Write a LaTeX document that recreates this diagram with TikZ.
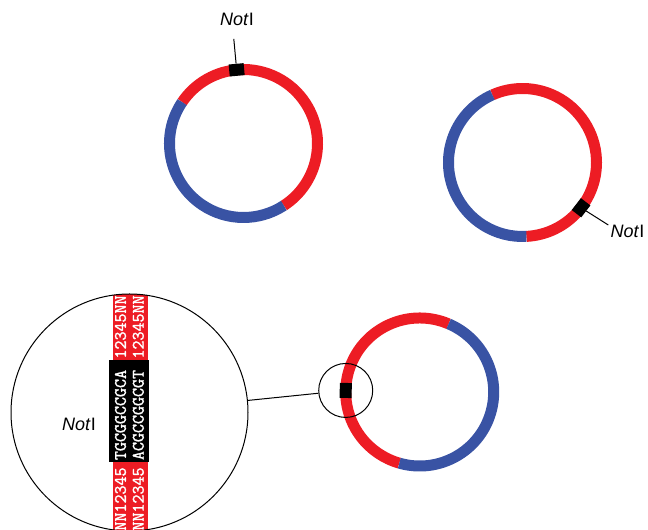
\documentclass[tikz,border=0pt]{standalone}
\usepackage{fontspec}
\setmainfont{Liberation Sans}
\newfontfamily\seqfont{Latin Modern Mono}[FakeBold=1.6]
\usetikzlibrary{calc}
\definecolor{ringred}{RGB}{237,28,36}
\definecolor{ringblue}{RGB}{57,83,164}
\begin{document}
\begin{tikzpicture}[x=1pt,y=1pt,
  ring/.style={line width=11pt},
  site/.style={rectangle, fill=black, inner sep=0pt, minimum width=15pt, minimum height=12pt},
  enzyme/.style={font=\fontsize{18}{18}\selectfont, inner sep=0pt},
  leader/.style={line width=1pt},
  seq/.style={text=white, font=\seqfont\fontsize{17.5}{17.5}\selectfont, rotate=90, inner sep=0pt}]
\useasboundingbox (0,0) rectangle (648,530);

% plasmid with the NotI site at the top
\coordinate (p1) at (243.5,386.5);
\draw[ring, ringred]  (p1) ++(-57:74) arc[start angle=-57, end angle=146, radius=74];
\draw[ring, ringblue] (p1) ++(146:74) arc[start angle=146, end angle=303, radius=74];
\node[site, rotate=5.3] (cut1) at ($(p1)+(95.3:74)$) {};
\coordinate (tip1) at ($(p1)+(95.3:105)$);
\draw[leader] (cut1.north) -- (tip1);
\node[enzyme] (lab1) at (237,510.8) {\textit{Not}I};

% plasmid with the NotI site at the lower right
\coordinate (p2) at (522.5,367.5);
\draw[ring, ringred]  (p2) ++(-87:74) arc[start angle=-87, end angle=114, radius=74];
\draw[ring, ringblue] (p2) ++(114:74) arc[start angle=114, end angle=273, radius=74];
\node[site, rotate=-127.7] (cut2) at ($(p2)+(-37.7:74)$) {};
\coordinate (tip2) at (608.3,305);
\draw[leader] (cut2) -- (tip2);
\node[enzyme] (lab2) at (627.5,299) {\textit{Not}I};

% plasmid with the NotI site on the left, shown enlarged
\coordinate (p3) at (419.7,138);
\draw[ring, ringred]  (p3) ++(67:74) arc[start angle=67, end angle=254, radius=74];
\draw[ring, ringblue] (p3) ++(254:74) arc[start angle=254, end angle=427, radius=74];
\node[site, rotate=88.8] (cut3) at ($(p3)+(178.8:74)$) {};
\node[circle, draw, line width=1pt, inner sep=0pt, minimum size=54pt] (lens) at (cut3) {};

% enlarged view of the site
\begin{scope}
  \clip (129.5,117.5) circle[radius=118.5];
  \fill[ringred] (113,-5) rectangle (147.5,240);
  \node[rectangle, fill=black, inner sep=0pt, minimum width=40pt, minimum height=101.7pt] (site) at (129,119.15) {};
  \node[seq] (topL) at (120.5,203) {12345NN};
  \node[seq] (topR) at (138.3,203) {12345NN};
  \node[seq] (midL) at (120.5,115) {TGCGGCCGCA};
  \node[seq] (midR) at (138.3,115) {ACGCCGGCGT};
  \node[seq] (botL) at (120.5,31) {NN12345};
  \node[seq] (botR) at (138.3,31) {NN12345};
\end{scope}
\node[circle, draw, line width=1pt, inner sep=0pt, minimum size=237pt] (view) at (129.5,117.5) {};
\node[enzyme] (lab3) at (79,106) {\textit{Not}I};

\draw[leader] (view) -- (lens);
\end{tikzpicture}
\end{document}
